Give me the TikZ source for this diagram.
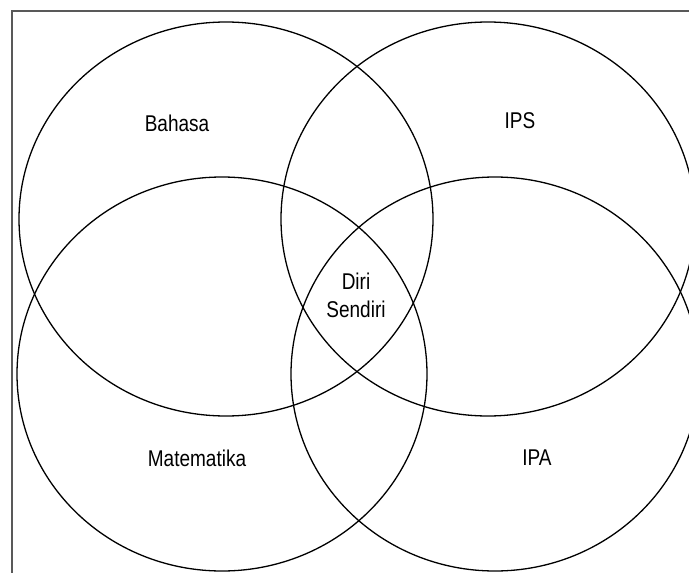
\documentclass[tikz,border=0pt]{standalone}
\usepackage{fontspec}
\setmainfont{Liberation Sans}
\usepackage{tikz}

\newcommand{\tall}[1]{\scalebox{1}[1.2]{#1}}

\tikzset{
    set/.style={line width=1.3pt, black},
    setlabel/.style={font=\fontsize{19}{28}\selectfont, align=center, inner sep=0pt},
}

\begin{document}
\begin{tikzpicture}[x=1pt, y=-1pt]
    \useasboundingbox (0,0) rectangle (689,573);
    \clip (0,0) rectangle (689,573);

    \draw[line width=1.6pt, black!65] (12,11) rectangle (720,600);

    \draw[set] (226,219) ellipse [x radius=207, y radius=197];
    \draw[set] (488,219) ellipse [x radius=207, y radius=197];
    \draw[set] (222,374) ellipse [x radius=205, y radius=197];
    \draw[set] (495,374) ellipse [x radius=204, y radius=197];

    \node[setlabel] (bahasa) at (177,123) {\tall{Bahasa}};
    \node[setlabel] (ips) at (520,121) {\tall{IPS}};
    \node[setlabel] (mtk) at (197,458) {\tall{Matematika}};
    \node[setlabel] (ipa) at (537,458) {\tall{IPA}};
    \node[setlabel] (diri) at (356,295) {\tall{Diri}\\\tall{Sendiri}};
\end{tikzpicture}
\end{document}
